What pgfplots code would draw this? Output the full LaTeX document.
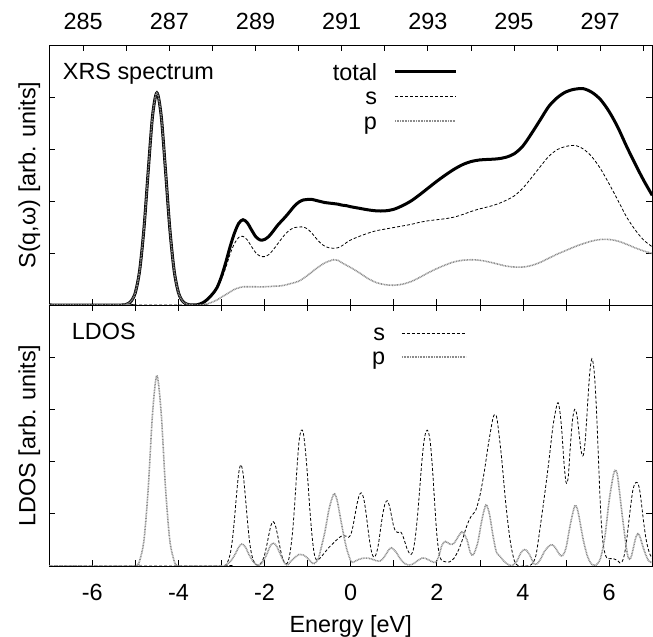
\documentclass[border=0pt]{standalone}
\usepackage{fontspec}
\setmainfont{Liberation Sans}
\usepackage{pgfplots}
\pgfplotsset{compat=1.18}
\newcommand\F{\fontsize{23.5}{28}\selectfont}
\begin{document}
\begin{tikzpicture}
\pgfplotsset{
 common/.style={scale only axis, width=603bp, xmin=-7, xmax=7, ymin=0, ymax=5,
   tick align=inside, major tick length=6bp, ytick={1,2,3,4}, yticklabels={},
   axis line style={line width=0.9bp}, every tick/.style={black, line width=0.7bp},
   tick label style={font=\F}, label style={font=\F}},
 sline/.style={black, line width=0.8bp, dash pattern=on 3bp off 2bp},
 pline/.style={black!45, line width=1.6bp, dash pattern=on 0.9bp off 0.7bp},
 tline/.style={black, line width=3bp},
}
% ---------------- top panel ----------------
\begin{axis}[common, height=260bp, at={(49.2bp,332bp)}, anchor=south west,
  xtick={-7,...,7}, xticklabels={}, xtick pos=left,
  ylabel={S(q,ω) [arb. units]},
  ylabel style={at={(axis description cs:-0.0229,0.5)}, anchor=base},
  legend plot pos=right, legend cell align=right,
  legend image code/.code={\draw[#1] (0bp,0bp) -- (60.6bp,0bp);},
  legend style={draw=none, fill=none, inner sep=0pt, outer sep=0pt,
    at={(axis description cs:0.6768,0.944)}, anchor=north east,
    row sep=0pt, column sep=16.7bp,
    nodes={inner sep=0pt, text height=20.5bp, text depth=4bp, font=\F}}]
\addplot[tline, smooth] coordinates {
(-7,0) (-5.3,0) (-5.2,0.016) (-5.1,0.07) (-5.0,0.24) (-4.9,0.665) (-4.8,1.47) (-4.7,2.59) (-4.6,3.64) (-4.5,4.08) (-4.4,3.64) (-4.3,2.59) (-4.2,1.47) (-4.1,0.665) (-4.0,0.24) (-3.9,0.07) (-3.8,0.016) (-3.7,0.0) (-3.6,0.0) (-3.5,0.02) (-3.4,0.06) (-3.3,0.13) (-3.2,0.22) (-3.1,0.34) (-3.0,0.55) (-2.9,0.82) (-2.8,1.12) (-2.7,1.38) (-2.6,1.57) (-2.5,1.64) (-2.4,1.58) (-2.3,1.44) (-2.2,1.31) (-2.1,1.25) (-2.0,1.26) (-1.9,1.32) (-1.8,1.42) (-1.7,1.53) (-1.6,1.62) (-1.5,1.71) (-1.4,1.81) (-1.3,1.91) (-1.2,1.98) (-1.1,2.02) (-1.0,2.03) (-0.9,2.03) (-0.8,2.01) (-0.7,1.99) (-0.6,1.97) (-0.5,1.96) (-0.4,1.95) (-0.3,1.94) (-0.2,1.92) (-0.1,1.91) (0,1.89) (0.2,1.86) (0.4,1.83) (0.6,1.81) (0.8,1.81) (1.0,1.84) (1.2,1.91) (1.4,2.0) (1.6,2.12) (1.8,2.25) (2.0,2.38) (2.2,2.5) (2.4,2.61) (2.6,2.7) (2.8,2.76) (3.0,2.79) (3.2,2.8) (3.4,2.81) (3.6,2.84) (3.8,2.91) (4.0,3.06) (4.2,3.3) (4.4,3.56) (4.6,3.82) (4.8,3.99) (5.0,4.1) (5.2,4.15) (5.4,4.16) (5.6,4.09) (5.8,3.95) (6.0,3.72) (6.2,3.42) (6.4,3.06) (6.6,2.72) (6.8,2.4) (7.0,2.11)};
\addlegendentry{total}
\addplot[sline, smooth] coordinates {
(-7,0) (-3.6,0) (-3.5,0.02) (-3.4,0.05) (-3.3,0.11) (-3.2,0.2) (-3.1,0.32) (-3.0,0.5) (-2.9,0.72) (-2.8,0.98) (-2.7,1.18) (-2.6,1.3) (-2.5,1.32) (-2.4,1.25) (-2.3,1.12) (-2.2,1.0) (-2.1,0.94) (-2.0,0.93) (-1.9,0.97) (-1.8,1.06) (-1.7,1.17) (-1.6,1.28) (-1.5,1.38) (-1.4,1.45) (-1.3,1.49) (-1.2,1.5) (-1.1,1.5) (-1.0,1.46) (-0.9,1.38) (-0.8,1.28) (-0.7,1.19) (-0.6,1.13) (-0.5,1.1) (-0.4,1.09) (-0.3,1.1) (-0.2,1.14) (-0.1,1.2) (0,1.25) (0.2,1.32) (0.4,1.38) (0.6,1.43) (0.8,1.46) (1.0,1.49) (1.2,1.52) (1.4,1.55) (1.6,1.59) (1.8,1.62) (2.0,1.64) (2.2,1.66) (2.4,1.69) (2.6,1.74) (2.8,1.8) (3.0,1.85) (3.2,1.89) (3.4,1.94) (3.6,2.01) (3.8,2.1) (4.0,2.25) (4.2,2.45) (4.4,2.66) (4.6,2.86) (4.8,2.99) (5.0,3.05) (5.2,3.07) (5.4,3.0) (5.6,2.85) (5.8,2.62) (6.0,2.33) (6.2,2.02) (6.4,1.7) (6.6,1.45) (6.8,1.25) (7.0,1.12)};
\addlegendentry{s}
\addplot[pline, smooth] coordinates {
(-7,0) (-5.3,0) (-5.2,0.016) (-5.1,0.07) (-5.0,0.24) (-4.9,0.665) (-4.8,1.47) (-4.7,2.59) (-4.6,3.64) (-4.5,4.08) (-4.4,3.64) (-4.3,2.59) (-4.2,1.47) (-4.1,0.665) (-4.0,0.24) (-3.9,0.07) (-3.8,0.016) (-3.7,0.0) (-3.5,0.0) (-3.4,0.01) (-3.3,0.03) (-3.2,0.06) (-3.1,0.1) (-3.0,0.15) (-2.9,0.2) (-2.8,0.25) (-2.7,0.3) (-2.6,0.33) (-2.5,0.35) (-2.4,0.35) (-2.2,0.35) (-2.0,0.35) (-1.8,0.36) (-1.6,0.37) (-1.4,0.41) (-1.2,0.46) (-1.0,0.57) (-0.8,0.7) (-0.6,0.81) (-0.4,0.87) (-0.3,0.86) (-0.2,0.81) (0,0.72) (0.2,0.62) (0.4,0.51) (0.6,0.43) (0.8,0.39) (1.0,0.38) (1.2,0.4) (1.4,0.45) (1.6,0.53) (1.8,0.62) (2.0,0.7) (2.2,0.77) (2.4,0.83) (2.6,0.86) (2.8,0.87) (3.0,0.86) (3.2,0.83) (3.4,0.79) (3.6,0.75) (3.8,0.73) (4.0,0.73) (4.2,0.76) (4.4,0.82) (4.6,0.9) (4.8,0.98) (5.0,1.05) (5.2,1.12) (5.4,1.18) (5.6,1.23) (5.8,1.26) (6.0,1.26) (6.2,1.23) (6.4,1.17) (6.6,1.1) (6.8,1.04) (7.0,0.99)};
\addlegendentry{p}
\node[anchor=base west, inner sep=0pt, font=\F] at (rel axis cs:0.0224,0.8654) {XRS spectrum};
\end{axis}
% top energy-loss axis
\begin{axis}[scale only axis, width=603bp, height=260bp, at={(49.2bp,332bp)}, anchor=south west,
  xmin=284.21, xmax=298.21, ymin=0, ymax=5, ytick=\empty,
  axis line style={draw=none}, tick align=inside, major tick length=6bp,
  every tick/.style={black, line width=0.7bp},
  xtick pos=right, xticklabel pos=right,
  xtick={285,...,298}, xticklabels={285,,287,,289,,291,,293,,295,,297,},
  xticklabel style={font=\F, anchor=base, yshift=15bp}]
\addplot[draw=none] coordinates {(285,0) (298,0)};
\end{axis}
% ---------------- bottom panel ----------------
\begin{axis}[common, height=261bp, at={(49.2bp,71bp)}, anchor=south west,
  xtick={-7,...,7}, xticklabels={,-6,,-4,,-2,,0,,2,,4,,6,},
  xticklabel style={anchor=base, yshift=-34bp},
  xlabel={Energy [eV]},
  xlabel style={at={(axis description cs:0.5,-0.2529)}, anchor=base},
  ylabel={LDOS [arb. units]},
  ylabel style={at={(axis description cs:-0.0229,0.5)}, anchor=base},
  legend plot pos=right, legend cell align=right,
  legend image code/.code={\draw[#1] (0bp,0bp) -- (64bp,0bp);},
  legend style={draw=none, fill=none, inner sep=0pt, outer sep=0pt,
    at={(axis description cs:0.6924,0.939)}, anchor=north east,
    row sep=0pt, column sep=16bp,
    nodes={inner sep=0pt, text height=20bp, text depth=4bp, font=\F}}]
\addplot[sline, smooth] coordinates {
(-7,0) (-3.0,0) (-2.9,0.02) (-2.85,0.09) (-2.8,0.22) (-2.75,0.48) (-2.7,0.89) (-2.65,1.37) (-2.6,1.78) (-2.55,1.94) (-2.5,1.78) (-2.45,1.37) (-2.4,0.89) (-2.35,0.48) (-2.3,0.22) (-2.25,0.09) (-2.2,0.03) (-2.15,0.01) (-2.1,0.04) (-2.05,0.1) (-2.0,0.21) (-1.95,0.39) (-1.9,0.6) (-1.85,0.78) (-1.8,0.85) (-1.75,0.78) (-1.7,0.6) (-1.65,0.39) (-1.6,0.2) (-1.55,0.08) (-1.5,0.04) (-1.45,0.09) (-1.4,0.3) (-1.35,0.65) (-1.3,1.19) (-1.25,1.84) (-1.2,2.38) (-1.15,2.6) (-1.1,2.55) (-1.05,2.2) (-1.0,1.7) (-0.95,1.1) (-0.9,0.6) (-0.85,0.25) (-0.8,0.12) (-0.75,0.12) (-0.7,0.16) (-0.6,0.26) (-0.5,0.36) (-0.4,0.44) (-0.3,0.52) (-0.2,0.58) (-0.1,0.57) (-0.05,0.55) (0.0,0.6) (0.05,0.75) (0.1,0.98) (0.15,1.2) (0.2,1.36) (0.25,1.4) (0.3,1.3) (0.35,1.05) (0.4,0.72) (0.45,0.42) (0.5,0.22) (0.55,0.17) (0.6,0.25) (0.65,0.45) (0.7,0.75) (0.75,1.02) (0.8,1.2) (0.85,1.25) (0.9,1.15) (0.95,0.95) (1.0,0.75) (1.05,0.66) (1.1,0.64) (1.15,0.66) (1.2,0.6) (1.25,0.48) (1.3,0.35) (1.35,0.26) (1.4,0.22) (1.45,0.3) (1.5,0.55) (1.55,0.95) (1.6,1.45) (1.65,1.98) (1.7,2.38) (1.75,2.58) (1.8,2.58) (1.85,2.35) (1.9,1.85) (1.95,1.2) (2.0,0.6) (2.05,0.25) (2.1,0.12) (2.2,0.08) (2.3,0.08) (2.4,0.15) (2.5,0.3) (2.6,0.52) (2.7,0.78) (2.8,0.96) (2.9,1.06) (3.0,1.35) (3.1,1.8) (3.2,2.35) (3.3,2.82) (3.35,2.9) (3.4,2.8) (3.5,2.1) (3.6,1.2) (3.7,0.5) (3.8,0.1) (3.9,0.0) (4.0,0.0) (4.1,0.0) (4.2,0.03) (4.3,0.2) (4.4,0.75) (4.5,1.35) (4.6,2.0) (4.7,2.7) (4.8,3.12) (4.85,3.0) (4.9,2.6) (4.95,2.0) (5.0,1.6) (5.05,1.7) (5.1,2.3) (5.15,2.8) (5.2,3.0) (5.25,2.9) (5.3,2.55) (5.35,2.2) (5.4,2.12) (5.45,2.45) (5.5,3.1) (5.55,3.7) (5.6,3.97) (5.65,3.75) (5.7,3.1) (5.75,2.1) (5.8,1.1) (5.85,0.5) (5.9,0.25) (5.95,0.15) (6.0,0.14) (6.1,0.14) (6.2,0.1) (6.25,0.06) (6.3,0.08) (6.35,0.2) (6.4,0.45) (6.45,0.8) (6.5,1.15) (6.55,1.45) (6.6,1.58) (6.65,1.6) (6.7,1.5) (6.75,1.2) (6.8,0.85) (6.85,0.55) (6.9,0.35) (6.95,0.22) (7.0,0.15)};
\addlegendentry{s}
\addplot[pline, smooth] coordinates {
(-7,0) (-5.0,0) (-4.95,0.02) (-4.9,0.1) (-4.8,0.49) (-4.7,1.5) (-4.6,2.93) (-4.5,3.65) (-4.4,2.93) (-4.3,1.5) (-4.2,0.49) (-4.1,0.1) (-4.05,0.02) (-4.0,0) (-2.95,0) (-2.9,0.02) (-2.8,0.08) (-2.7,0.2) (-2.6,0.36) (-2.53,0.42) (-2.45,0.37) (-2.35,0.2) (-2.25,0.07) (-2.15,0.01) (-2.05,0.07) (-1.95,0.22) (-1.87,0.38) (-1.8,0.44) (-1.72,0.38) (-1.62,0.2) (-1.52,0.04) (-1.45,0.03) (-1.4,0.08) (-1.3,0.16) (-1.2,0.22) (-1.1,0.21) (-1.0,0.15) (-0.9,0.06) (-0.83,0.05) (-0.75,0.15) (-0.7,0.3) (-0.6,0.65) (-0.5,1.1) (-0.4,1.37) (-0.35,1.35) (-0.3,1.2) (-0.2,0.75) (-0.1,0.35) (0.0,0.1) (0.05,0.07) (0.1,0.09) (0.2,0.13) (0.3,0.15) (0.4,0.15) (0.5,0.13) (0.6,0.1) (0.7,0.1) (0.8,0.2) (0.9,0.33) (0.95,0.35) (1.05,0.27) (1.15,0.14) (1.25,0.05) (1.35,0.02) (1.45,0.04) (1.55,0.1) (1.65,0.15) (1.72,0.15) (1.8,0.12) (1.9,0.08) (1.98,0.07) (2.05,0.2) (2.12,0.4) (2.2,0.47) (2.3,0.42) (2.38,0.42) (2.45,0.5) (2.55,0.63) (2.6,0.65) (2.7,0.5) (2.78,0.25) (2.85,0.22) (2.95,0.45) (3.05,0.9) (3.14,1.17) (3.22,1.0) (3.3,0.6) (3.38,0.27) (3.45,0.2) (3.55,0.1) (3.65,0.03) (3.75,0.01) (3.85,0.08) (3.95,0.25) (4.05,0.32) (4.15,0.22) (4.25,0.05) (4.32,0.04) (4.4,0.12) (4.5,0.28) (4.6,0.38) (4.67,0.41) (4.75,0.35) (4.85,0.22) (4.92,0.2) (5.0,0.35) (5.1,0.8) (5.2,1.15) (5.25,1.12) (5.3,0.95) (5.4,0.5) (5.5,0.18) (5.6,0.03) (5.7,0.02) (5.8,0.15) (5.9,0.55) (6.0,1.25) (6.1,1.75) (6.15,1.84) (6.2,1.7) (6.3,1.0) (6.4,0.35) (6.45,0.15) (6.5,0.15) (6.55,0.3) (6.62,0.55) (6.67,0.62) (6.72,0.55) (6.8,0.33) (6.9,0.12) (6.97,0.07) (7.0,0.07)};
\addlegendentry{p}
\node[anchor=base west, inner sep=0pt, font=\F] at (rel axis cs:0.0373,0.8659) {LDOS};
\end{axis}
\pgfresetboundingbox
\path[use as bounding box] (0bp,0bp) rectangle (653bp,637bp);
\end{tikzpicture}
\end{document}
